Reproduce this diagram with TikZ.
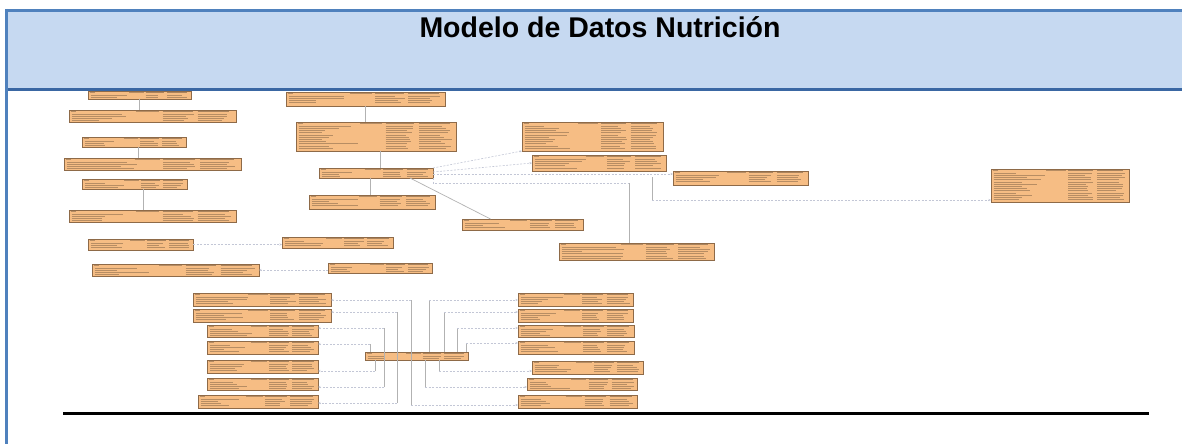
\documentclass[tikz,border=0pt]{standalone}
\usepackage{fontspec}
\setmainfont{Liberation Sans}
\usetikzlibrary{fit,arrows.meta}
\definecolor{hdrfill}{HTML}{C6D9F1}
\definecolor{hdrline}{HTML}{4F81BD}
\definecolor{hdrdark}{HTML}{3A67A3}
\definecolor{boxfill}{HTML}{F6BD84}
\definecolor{boxline}{HTML}{8E6A48}
\definecolor{ftxt}{HTML}{7A5E44}
\definecolor{relc}{HTML}{B2B2B2}
\definecolor{depc}{HTML}{C3C7D6}
\tikzset{
  tbl/.style={draw=boxline, line width=0.7pt, fill=boxfill, inner sep=0pt, outer sep=0pt},
  ftext/.style={draw=ftxt, line width=0.7pt, opacity=0.5},
  fhead/.style={draw=ftxt, line width=0.9pt, opacity=0.6},
  rel/.style={draw=relc, line width=0.7pt},
  dep/.style={draw=depc, line width=0.6pt, dash pattern=on 2pt off 1.5pt},
  deparr/.style={dep, -{Stealth[length=2.5pt,width=2pt]}},
  hdrtitle/.style={font=\fontsize{28.5}{34}\selectfont\bfseries, text=black, inner sep=0pt},
}
\newcommand\fakerows[4]{%
  \pgfmathsetmacro\fw{#3-#1}%
  \pgfmathsetmacro\ca{#1+0.56*\fw}%
  \pgfmathsetmacro\cb{#1+0.77*\fw}%
  \draw[ftext] (#1+1.5,#2+1.7) -- ++(5,0);
  \draw[ftext] (#1+0.40*\fw,#2+1.7) -- ++(0.14*\fw,0);
  \draw[fhead] (\ca,#2+1.9) -- ++(0.18*\fw,0);
  \draw[fhead] (\cb,#2+1.9) -- ++(0.19*\fw,0);
  \pgfmathtruncatemacro\nr{(#4-#2-5.4)/2.2}%
  \foreach \i in {0,...,\nr}{%
    \pgfmathsetmacro\yy{#2+4.1+2.2*\i}%
    \pgfmathsetmacro\la{(0.25+0.5*rnd)*(\ca-#1-4)}%
    \pgfmathsetmacro\lb{(0.6+0.35*rnd)*(\cb-\ca-2)}%
    \pgfmathsetmacro\lc{(0.6+0.35*rnd)*(#3-\cb-2)}%
    \draw[ftext] (#1+2.5,\yy) -- ++(\la,0);
    \draw[ftext] (\ca,\yy) -- ++(\lb,0);
    \draw[ftext] (\cb,\yy) -- ++(\lc,0);
  }%
}
\newcommand\dbtable[5]{%
  \node[tbl, fit={(#2,#3)(#4,#5)}] (#1) {};
  \fakerows{#2}{#3}{#4}{#5}%
}
\begin{document}
\begin{tikzpicture}[x=1pt,y=-1pt]
\pgfmathsetseed{7}
\useasboundingbox (0,0) rectangle (1182,444);
\fill[white] (0,0) rectangle (1182,444);
% header band
\fill[hdrfill] (7,10.5) rectangle (1182,89.5);
\draw[hdrline, line width=3pt] (5,10.5) -- (1182,10.5);
\draw[hdrdark, line width=2.5pt] (7,89.5) -- (1182,89.5);
\draw[hdrline, line width=2.6pt] (6.3,9) -- (6.3,444);
\node[hdrtitle, anchor=base] (title) at (600,37.5) {Modelo de Datos Nutrición};
% bottom rule
\draw[black, line width=2.5pt] (63,413.5) -- (1149,413.5);

% top-left tables
\dbtable{A}{88}{91}{191}{99}
\dbtable{B}{69}{110}{236}{122}
\dbtable{C}{82}{137}{186}{147}
\dbtable{D}{64}{158}{241}{170}
\dbtable{E}{82}{179}{187}{189}
\dbtable{F}{69}{210}{236}{222}
\dbtable{G}{88}{239}{193}{250}
\dbtable{H}{92}{264}{259}{276}
% middle tables
\dbtable{I}{286}{92}{445}{106}
\dbtable{J}{296}{122}{456}{151}
\dbtable{K}{319}{168}{433}{178}
\dbtable{L}{309}{195}{435}{209}
\dbtable{M}{462}{219}{583}{230}
\dbtable{N}{522}{122}{663}{151}
\dbtable{O}{532}{155}{666}{171}
\dbtable{P}{559}{243}{714}{260}
\dbtable{Q}{282}{237}{393}{248}
\dbtable{R}{328}{263}{432}{273}
\dbtable{S}{673}{171}{808}{185}
\dbtable{T}{991}{169}{1129}{202}
% bottom cluster
\dbtable{L1}{193}{293}{331}{306}
\dbtable{L2}{193}{309}{331}{322}
\dbtable{L3}{207}{325}{318}{337}
\dbtable{L4}{207}{341}{318}{354}
\dbtable{L5}{207}{360}{318}{373}
\dbtable{L6}{207}{378}{318}{390}
\dbtable{L7}{198}{395}{318}{408}
\dbtable{C0}{365}{352}{468}{360}
\dbtable{R1}{518}{293}{633}{306}
\dbtable{R2}{518}{309}{633}{322}
\dbtable{R3}{518}{325}{634}{337}
\dbtable{R4}{518}{341}{634}{354}
\dbtable{R5}{532}{361}{643}{374}
\dbtable{R6}{527}{378}{637}{390}
\dbtable{R7}{518}{395}{637}{408}

% connectors top-left
\draw[rel] (A.south) -- (A.south |- B.north);
\draw[rel] ([xshift=4pt]C.south) -- ([xshift=4pt]C.south |- D.north);
\draw[rel] ([xshift=8.5pt]E.south) -- ([xshift=8.5pt]E.south |- F.north);
\draw[deparr] (G.east) -- (G.east -| Q.west);
\draw[deparr] (H.east -| R.west) -- (H.east);
% connectors middle
\draw[rel] (I.south) -- (I.south |- J.north);
\draw[rel] ([xshift=4pt]J.south) -- ([xshift=4pt]J.south |- K.north);
\draw[rel] ([xshift=-6pt]K.south) -- ([xshift=-6pt]K.south |- L.north);
\draw[rel] ([xshift=34pt]K.south) -- ([xshift=-32pt]M.north);
\draw[deparr] (K.north east) -- (N.south west);
\draw[deparr] ([yshift=-4pt]K.north east) -- (O.west);
\draw[deparr] ([yshift=-6pt]K.north east) -- ([yshift=-6pt]K.north east -| S.west);
\coordinate (kp) at (629,183);
\draw[dep] (K.south east) |- (kp);
\draw[rel] (kp) -- (kp |- P.north);
\coordinate (st1) at (652,177);
\coordinate (st2) at (652,200);
\draw[rel] (st1) -- (st2);
\draw[deparr] (st2) -- (st2 -| T.west);

% connectors bottom cluster (left)
\coordinate (v1) at (411,300); \coordinate (v1b) at (411,405);
\draw[rel] (v1) -- (v1b);
\draw[deparr] (v1) -- (v1 -| L1.east);
\draw[deparr] (v1b) -- (v1b -| R7.west);
\coordinate (v2) at (397,312); \coordinate (v2b) at (397,403);
\draw[rel] (v2) -- (v2b);
\draw[deparr] (v2) -- (v2 -| L2.east);
\draw[deparr] (v2b) -- (v2b -| L7.east);
\coordinate (v3) at (384,328); \coordinate (v3b) at (384,387);
\draw[rel] (v3) -- (v3b);
\draw[deparr] (v3) -- (v3 -| L3.east);
\draw[deparr] (v3b) -- (v3b -| L6.east);
\coordinate (v4) at (370,344);
\draw[rel] (v4) -- (v4 |- C0.north);
\draw[deparr] (v4) -- (v4 -| L4.east);
\coordinate (v5) at (375,371);
\draw[rel] (v5 |- C0.south) -- (v5);
\draw[deparr] (v5) -- (v5 -| L5.east);
% connectors bottom cluster (right)
\coordinate (w1) at (429,300);
\draw[rel] (w1 |- C0.north) -- (w1);
\draw[deparr] (w1) -- (w1 -| R1.west);
\coordinate (w2) at (444,312);
\draw[rel] (w2 |- C0.north) -- (w2);
\draw[deparr] (w2) -- (w2 -| R2.west);
\coordinate (w3) at (457,328);
\draw[rel] (w3 |- C0.north) -- (w3);
\draw[deparr] (w3) -- (w3 -| R3.west);
\coordinate (w4) at (466,343);
\draw[rel] (w4 |- C0.north) -- (w4);
\draw[deparr] (w4) -- (w4 -| R4.west);
\coordinate (w5) at (439,371);
\draw[rel] (w5 |- C0.south) -- (w5);
\draw[deparr] (w5) -- (w5 -| R5.west);
\coordinate (w6) at (425,387);
\draw[rel] (w6 |- C0.south) -- (w6);
\draw[deparr] (w6) -- (w6 -| R6.west);
\end{tikzpicture}
\end{document}
